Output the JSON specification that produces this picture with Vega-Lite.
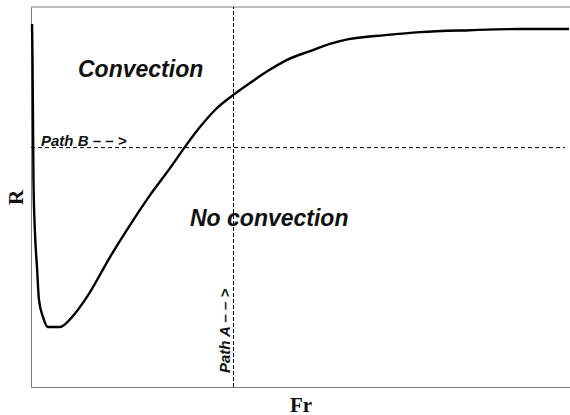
{
  "$schema": "https://vega.github.io/schema/vega-lite/v6.json",
  "autosize": "none",
  "width": 539,
  "height": 380,
  "padding": {"left": 31, "top": 7, "right": 0, "bottom": 28},
  "config": {
    "view": {"stroke": null},
    "axis": {"domain": true, "domainColor": "#7a7a7a", "domainWidth": 1, "ticks": false, "labels": false, "grid": false, "titleFont": "Liberation Serif", "titleFontWeight": "bold", "titleFontSize": 21, "titleColor": "#111"}
  },
  "datasets": {
    "curve": [
      {"Fr": 0.19, "R": 95.5}, {"Fr": 0.28, "R": 86.1}, {"Fr": 0.37, "R": 70.3}, {"Fr": 0.46, "R": 54.5},
      {"Fr": 0.74, "R": 40.5}, {"Fr": 1.11, "R": 31.6}, {"Fr": 1.48, "R": 22.9}, {"Fr": 2.23, "R": 18.4},
      {"Fr": 3.15, "R": 15.8}, {"Fr": 5.38, "R": 15.8}, {"Fr": 7.61, "R": 18.4}, {"Fr": 10.39, "R": 23.7},
      {"Fr": 14.66, "R": 34.2}, {"Fr": 18.37, "R": 42.6}, {"Fr": 22.08, "R": 50.5}, {"Fr": 25.79, "R": 57.6},
      {"Fr": 28.57, "R": 63.2}, {"Fr": 31.35, "R": 68.4}, {"Fr": 34.14, "R": 72.9}, {"Fr": 37.48, "R": 76.8},
      {"Fr": 40.63, "R": 80.0}, {"Fr": 43.97, "R": 83.2}, {"Fr": 47.5, "R": 86.1}, {"Fr": 51.76, "R": 88.4},
      {"Fr": 55.47, "R": 90.3}, {"Fr": 59.18, "R": 91.6}, {"Fr": 65.68, "R": 92.6}, {"Fr": 72.17, "R": 93.4},
      {"Fr": 81.45, "R": 93.9}, {"Fr": 90.72, "R": 94.2}, {"Fr": 99.81, "R": 94.2}
    ],
    "frame": [{"x1": 0, "x2": 100, "y": 100}],
    "hpath": [{"x1": 0, "x2": 99.1, "y": 63.0}],
    "vpath": [{"x": 37.57, "y1": 0, "y2": 100}],
    "labels": [
      {"label": "Convection", "x": 8.72, "y": 81.6},
      {"label": "No convection", "x": 29.5, "y": 42.4}
    ],
    "pathB": [{"label": "Path B – – >", "x": 1.86, "y": 63.5}],
    "pathA": [{"label": "Path A – – >", "x": 36.9, "y": 3.68}]
  },
  "layer": [
    {
      "data": {"name": "frame"},
      "mark": {"type": "rule", "color": "#7a7a7a", "strokeWidth": 1},
      "encoding": {
        "x": {"field": "x1", "type": "quantitative", "scale": {"domain": [0, 100], "nice": false, "zero": false}, "axis": {"title": "Fr", "titlePadding": 7}},
        "x2": {"field": "x2"},
        "y": {"field": "y", "type": "quantitative", "scale": {"domain": [0, 100], "nice": false, "zero": false}, "axis": {"title": "R", "titlePadding": 5}}
      }
    },
    {
      "data": {"name": "hpath"},
      "mark": {"type": "rule", "color": "black", "strokeWidth": 1, "strokeDash": [4, 3]},
      "encoding": {
        "x": {"field": "x1", "type": "quantitative"},
        "x2": {"field": "x2"},
        "y": {"field": "y", "type": "quantitative"}
      }
    },
    {
      "data": {"name": "vpath"},
      "mark": {"type": "rule", "color": "black", "strokeWidth": 1, "strokeDash": [4, 2]},
      "encoding": {
        "x": {"field": "x", "type": "quantitative"},
        "y": {"field": "y1", "type": "quantitative"},
        "y2": {"field": "y2"}
      }
    },
    {
      "data": {"name": "curve"},
      "mark": {"type": "line", "color": "black", "strokeWidth": 2.4, "interpolate": "monotone"},
      "encoding": {
        "x": {"field": "Fr", "type": "quantitative"},
        "y": {"field": "R", "type": "quantitative"},
        "order": {"field": "Fr", "type": "quantitative"}
      }
    },
    {
      "data": {"name": "labels"},
      "mark": {"type": "text", "font": "Liberation Sans", "fontWeight": "bold", "fontStyle": "italic", "fontSize": 23, "align": "left", "baseline": "alphabetic", "color": "#111"},
      "encoding": {
        "x": {"field": "x", "type": "quantitative"},
        "y": {"field": "y", "type": "quantitative"},
        "text": {"field": "label"}
      }
    },
    {
      "data": {"name": "pathB"},
      "mark": {"type": "text", "font": "Liberation Sans", "fontWeight": "bold", "fontStyle": "italic", "fontSize": 15, "align": "left", "baseline": "alphabetic", "color": "#111"},
      "encoding": {
        "x": {"field": "x", "type": "quantitative"},
        "y": {"field": "y", "type": "quantitative"},
        "text": {"field": "label"}
      }
    },
    {
      "data": {"name": "pathA"},
      "mark": {"type": "text", "font": "Liberation Sans", "fontWeight": "bold", "fontStyle": "italic", "fontSize": 15, "align": "left", "baseline": "alphabetic", "angle": 270, "color": "#111"},
      "encoding": {
        "x": {"field": "x", "type": "quantitative"},
        "y": {"field": "y", "type": "quantitative"},
        "text": {"field": "label"}
      }
    }
  ]
}
